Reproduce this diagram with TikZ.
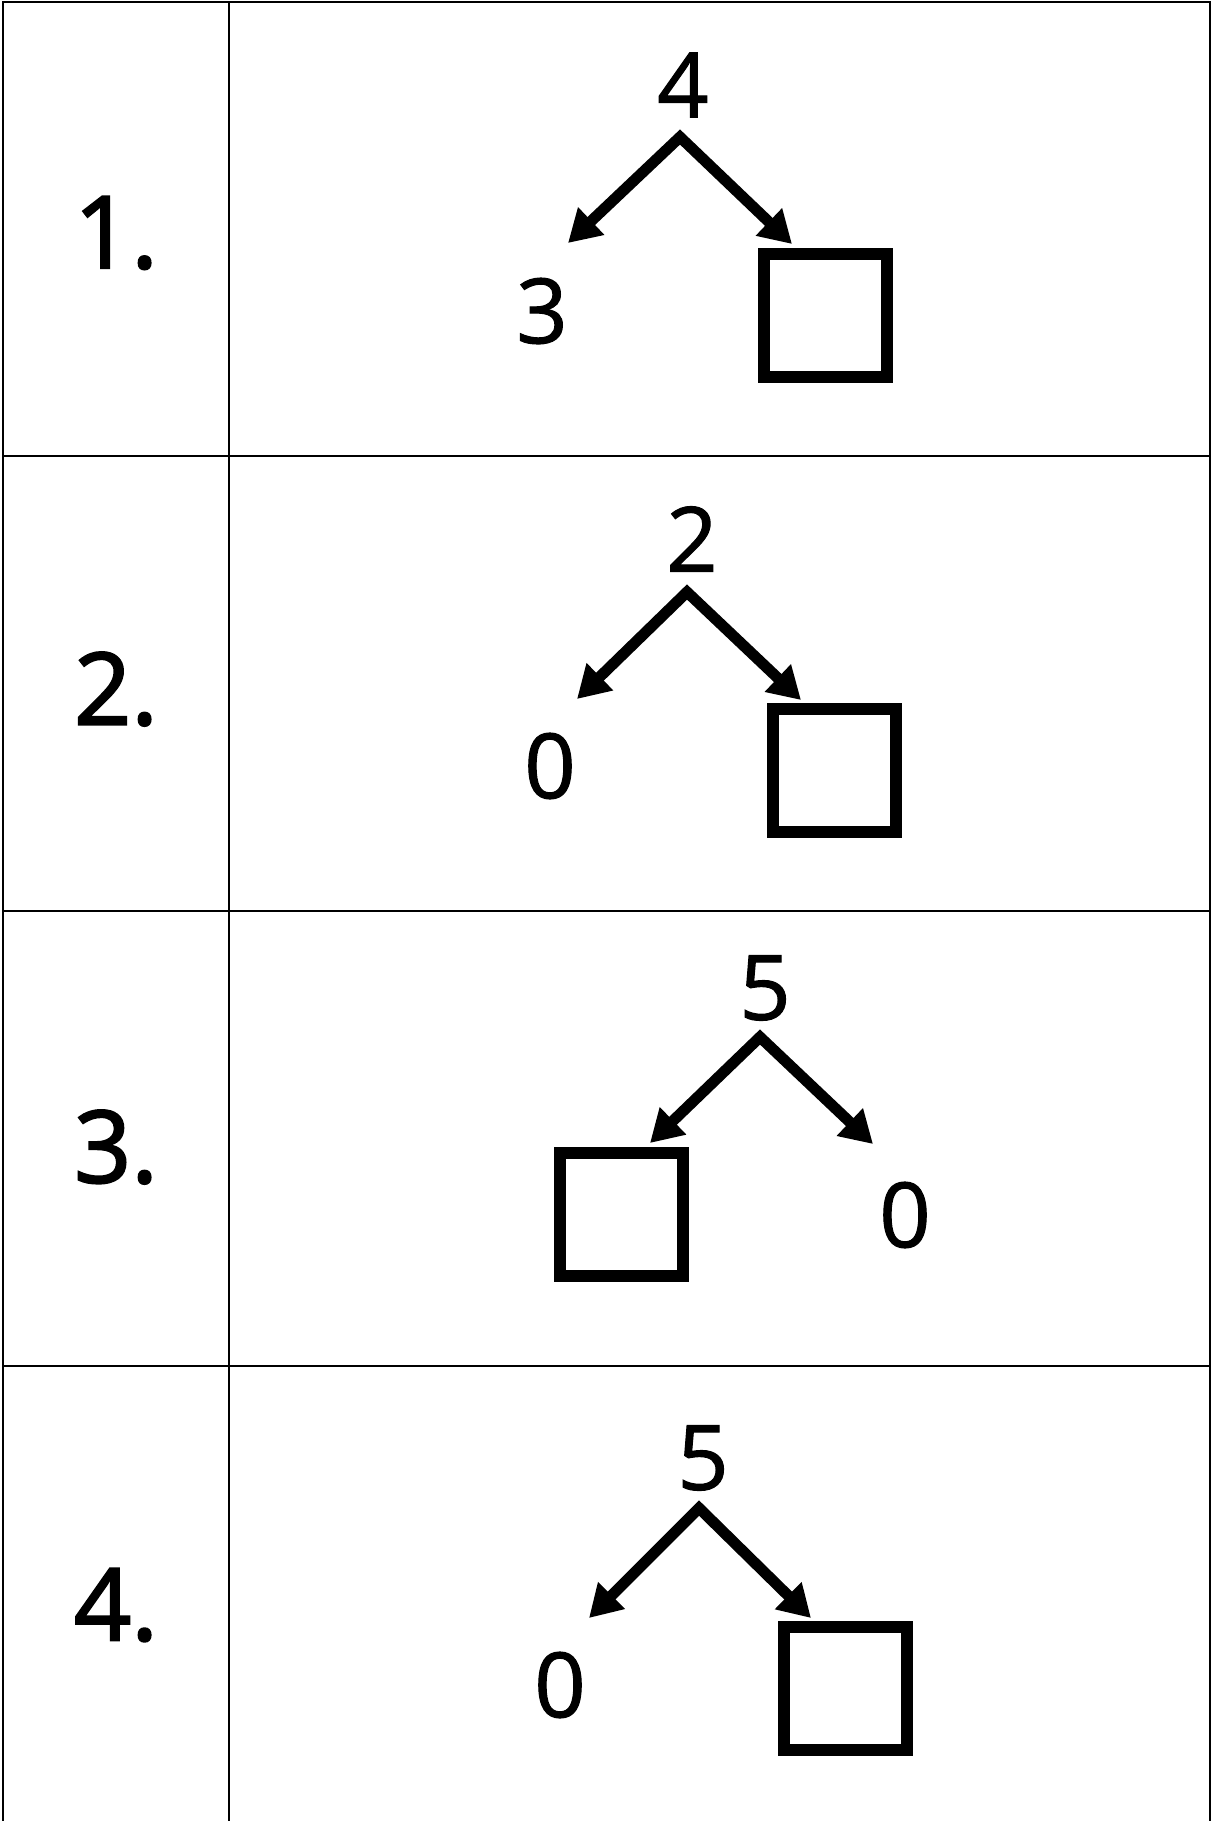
\documentclass[tikz,border=0pt]{standalone}
\usepackage{fontspec}
\setmainfont{Open Sans}
\newfontfamily\treefont{Open Sans}[FakeBold=1.2]
\newfontfamily\labfont{Open Sans}[FakeBold=2.2]
\usetikzlibrary{arrows.meta}
\begin{document}
\begin{tikzpicture}[x=0.5pt,y=-0.5pt,
  rule/.style={line width=1pt},
  num/.style={inner sep=0pt,font=\treefont\fontsize{45}{45}\selectfont},
  lab/.style={inner sep=0pt,font=\labfont\fontsize{50}{50}\selectfont},
  blank/.style={draw,line width=6pt,minimum size=61.5pt,inner sep=0pt},
  split/.style={line width=5.5pt,line join=miter,{Triangle[length=16pt,width=18pt]}-{Triangle[length=16pt,width=18pt]}}]
\useasboundingbox (0,0) rectangle (1212,1821);
% table
\draw[rule] (3,1821) -- (3,2) -- (1210,2) -- (1210,1821);
\draw[rule] (229,2) -- (229,1821);
\draw[rule] (3,456) -- (1210,456);
\draw[rule] (3,911) -- (1210,911);
\draw[rule] (3,1366) -- (1210,1366);
% labels
\node[lab] (l1) at (116,233) {1.};
\node[lab] (l2) at (116,689) {2.};
\node[lab] (l3) at (116,1147) {3.};
\node[lab] (l4) at (116,1605) {4.};
% row 1
\node[num] (t1) at (683,85) {4};
\coordinate (a1) at (680,137);
\coordinate (p1) at (568,243);
\coordinate (q1) at (792,244);
\node[num] (c1) at (542,311) {3};
\node[blank] (b1) at (825.5,315) {};
\draw[split] (p1) -- (a1) -- (q1);
% row 2
\node[num] (t2) at (692,539) {2};
\coordinate (a2) at (687,592);
\coordinate (p2) at (577,699);
\coordinate (q2) at (801,700);
\node[num] (c2) at (550,766) {0};
\node[blank] (b2) at (834,770) {};
\draw[split] (p2) -- (a2) -- (q2);
% row 3
\node[num] (t3) at (765,988) {5};
\coordinate (a3) at (760,1037);
\coordinate (p3) at (650,1143);
\coordinate (q3) at (873,1144);
\node[blank] (b3) at (621,1214) {};
\node[num] (c3) at (905,1215) {0};
\draw[split] (p3) -- (a3) -- (q3);
% row 4
\node[num] (t4) at (703,1458) {5};
\coordinate (a4) at (699,1508);
\coordinate (p4) at (589,1618);
\coordinate (q4) at (811,1618);
\node[num] (c4) at (560,1685) {0};
\node[blank] (b4) at (845.5,1688.5) {};
\draw[split] (p4) -- (a4) -- (q4);
\end{tikzpicture}
\end{document}
